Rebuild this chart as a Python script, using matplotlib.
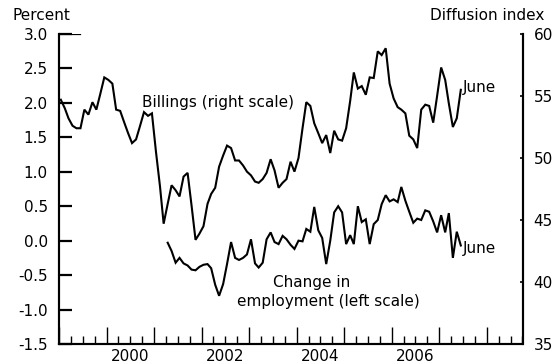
import matplotlib
matplotlib.use("Agg")
import matplotlib.pyplot as plt
import matplotlib.dates as mdates
import matplotlib.transforms as mtransforms
import pandas as pd
import datetime as dt

plt.rcParams['font.family'] = ['DejaVu Sans']
plt.rcParams['font.size'] = 11

# Architecture billings index (right scale), monthly Jan 1999 - Jun 2007
billings = [54.7, 54.0, 53.2, 52.6, 52.4, 52.4, 53.9, 53.5, 54.5, 53.9, 55.2, 56.5,
            56.3, 56.0, 53.9, 53.8, 52.9, 52.0, 51.2, 51.5, 52.6, 53.7, 53.4, 53.6,
            50.5, 47.7, 44.7, 46.3, 47.8, 47.4, 46.9, 48.5, 48.8, 46.2, 43.4, 43.9,
            44.5, 46.3, 47.1, 47.6, 49.3, 50.2, 51.0, 50.8, 49.8, 49.8, 49.4, 48.9,
            48.6, 48.1, 48.0, 48.3, 48.8, 49.9, 49.0, 47.6, 48.0, 48.3, 49.7, 48.9,
            50.0, 52.4, 54.5, 54.2, 52.8, 52.0, 51.2, 51.85, 50.4, 52.2, 51.5, 51.4,
            52.4, 54.6, 56.9, 55.6, 55.8, 55.1, 56.5, 56.45, 58.6, 58.3, 58.85, 56.0,
            54.8, 54.1, 53.9, 53.6, 51.8, 51.5, 50.8, 53.9, 54.3, 54.2, 52.85, 55.0,
            57.3, 56.3, 54.4, 52.5, 53.2, 55.5]

# Change in employment, percent (left scale), monthly Apr 2001 - Jun 2007
employment = [-0.03, -0.15, -0.32, -0.25, -0.33, -0.36, -0.42, -0.43, -0.38,
              -0.35, -0.34, -0.40, -0.64, -0.80, -0.63, -0.34, -0.02, -0.25, -0.28,
              -0.25, -0.20, 0.02, -0.33, -0.39, -0.32, 0.02, 0.12, -0.02, -0.05,
              0.07, 0.02, -0.06, -0.12, 0.0, -0.01, 0.17, 0.13, 0.49, 0.15,
              0.04, -0.34, 0.0, 0.41, 0.50, 0.41, -0.05, 0.08, -0.05, 0.50,
              0.27, 0.31, -0.05, 0.24, 0.30, 0.53, 0.66, 0.57, 0.60, 0.56,
              0.78, 0.58, 0.42, 0.26, 0.32, 0.30, 0.44, 0.42, 0.28, 0.12,
              0.37, 0.12, 0.40, -0.25, 0.13, -0.07]

bill_dates = pd.date_range("1999-01-01", periods=len(billings), freq="MS") + pd.Timedelta(days=14)
emp_dates = pd.date_range("2001-04-01", periods=len(employment), freq="MS") + pd.Timedelta(days=14)

year_labels = [2000, 2002, 2004, 2006]
left_ticks = [-1.5, -1.0, -0.5, 0.0, 0.5, 1.0, 1.5, 2.0, 2.5, 3.0]
right_ticks = [35, 40, 45, 50, 55, 60]

fig = plt.figure(figsize=(5.56, 3.64), dpi=100)
ax = fig.add_axes([59 / 556, 1 - 344 / 364, (522.5 - 59) / 556, (344 - 34) / 364])
ax2 = ax.twinx()

ax.plot(emp_dates, employment, color='black', lw=1.5, solid_joinstyle='miter')
ax2.plot(bill_dates, billings, color='black', lw=1.5, solid_joinstyle='miter')

ax.set_xlim(dt.date(1999, 1, 1), dt.date(2008, 10, 1))
ax.set_ylim(-1.5, 3.0)
ax2.set_ylim(35, 60)

for a in (ax, ax2):
    a.spines['top'].set_visible(False)
    for s in a.spines.values():
        s.set_linewidth(1.5)

ax.set_yticks(left_ticks)
ax.set_yticklabels([f"{v:.1f}" for v in left_ticks])
ax.tick_params(axis='y', direction='in', length=9.5, width=1.6, pad=8, labelsize=11)
ax2.set_yticks(right_ticks)
ax2.tick_params(axis='y', direction='in', length=2.5, width=1.2, pad=8, labelsize=11)

ax.xaxis.set_major_locator(mdates.YearLocator())
ax.xaxis.set_minor_locator(mdates.MonthLocator(bymonth=[4, 7, 10]))
ax.xaxis.set_major_formatter(plt.NullFormatter())
ax.tick_params(axis='x', which='major', direction='in', length=12, width=1.0)
ax.tick_params(axis='x', which='minor', direction='in', length=6, width=1.0)

# longer tick at the top of the left scale
ax.axhline(3.0, xmin=0, xmax=0.045, color='black', lw=1.6)

trans = mtransforms.blended_transform_factory(ax.transData, ax.transAxes)
for yr in year_labels:
    ax.text(dt.date(yr, 7, 1), -0.015, str(yr), transform=trans,
            ha='center', va='top', fontsize=11)

ax.text(dt.date(2000, 10, 1), 2.0, "Billings (right scale)", va='center', fontsize=11)
ax.text(dt.date(2007, 7, 1), 2.22, "June", va='center', fontsize=11)
ax.text(dt.date(2007, 7, 1), -0.11, "June", va='center', fontsize=11)
ax.text(dt.date(2003, 7, 1), -0.6, "Change in", va='center', fontsize=11)
ax.text(dt.date(2002, 10, 1), -0.89, "employment (left scale)", va='center', fontsize=11)

fig.text(12 / 556, 1 - 15 / 364, "Percent", va='center', fontsize=11)
fig.text(544 / 556, 1 - 15 / 364, "Diffusion index", va='center', ha='right', fontsize=11)

fig.savefig("out.png", dpi=100)
